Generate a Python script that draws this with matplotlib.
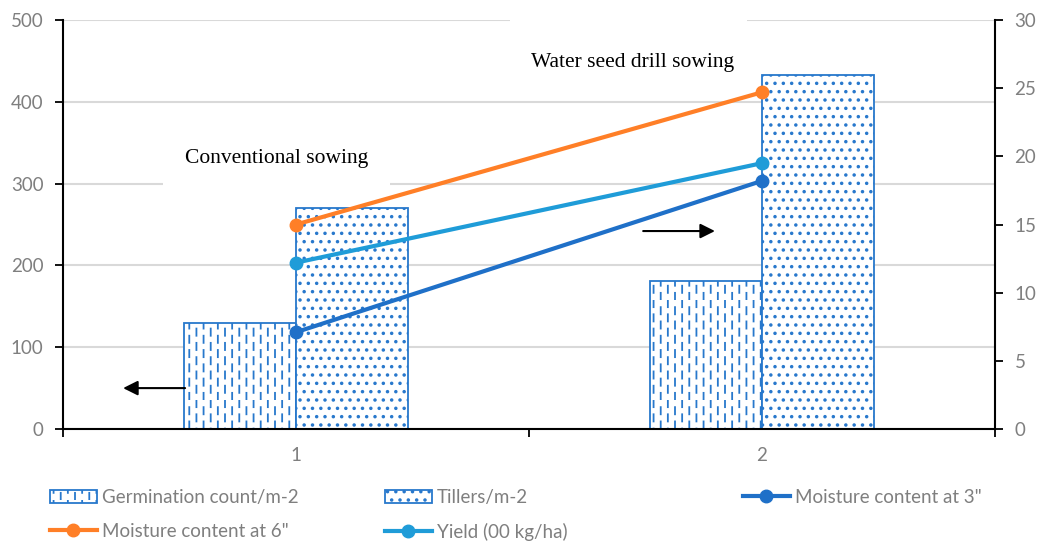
import numpy as np
import matplotlib
matplotlib.use("Agg")
import matplotlib.pyplot as plt
import matplotlib.hatch as mhatch
from matplotlib.path import Path
from matplotlib.patches import Rectangle

# ---------------- data ----------------
categories = [1, 2]
germination = [130, 181]
tillers = [270, 433]
moisture_3 = [7.1, 18.2]
moisture_6 = [15.0, 24.7]
yield_00 = [12.2, 19.5]
left_ticks = [0, 100, 200, 300, 400, 500]
right_ticks = [0, 5, 10, 15, 20, 25, 30]


# ------------- custom dashed-vertical hatch -------------
class DashedVertical(mhatch.HatchPatternBase):
    def __init__(self, hatch, density):
        c = hatch.count('|')
        self.ncols = 14 * c
        self.nrows = 7 * c
        self.num_vertices = self.ncols * self.nrows * 2

    def set_vertices_and_codes(self, vertices, codes):
        k = 0
        for i in range(self.ncols):
            x = (i + 0.5) / self.ncols
            off = 0.5 / self.nrows if i % 2 else 0.0
            for j in range(self.nrows):
                y0 = j / self.nrows + off
                vertices[k] = (x, y0)
                vertices[k + 1] = (x, y0 + 0.5 / self.nrows)
                codes[k] = Path.MOVETO
                codes[k + 1] = Path.LINETO
                k += 2


mhatch._hatch_types[mhatch._hatch_types.index(mhatch.VerticalHatch)] = DashedVertical

plt.rcParams['font.family'] = ['Lato', 'DejaVu Sans']
plt.rcParams['hatch.linewidth'] = 1.3

BAR_BLUE = '#2878CC'
DARK_BLUE = '#1F70C8'
LIGHT_BLUE = '#1F9CD8'
ORANGE = '#FF7F27'
GRID = '#D9D9D9'
TXT = '#7F7F7F'

fig = plt.figure(figsize=(10.41, 5.45), dpi=100)
ax = fig.add_axes([63 / 1041, 116 / 545, 932 / 1041, 409 / 545])
ax2 = ax.twinx()

x = np.array(categories, dtype=float)
w = 0.24
b1 = ax.bar(x - w, germination, width=w, align='edge', facecolor='white',
            edgecolor=BAR_BLUE, hatch='|', linewidth=1.3, label='Germination count/m-2')
b2 = ax.bar(x, tillers, width=w, align='edge', facecolor='white',
            edgecolor=BAR_BLUE, hatch='..', linewidth=1.3, label='Tillers/m-2')

l3, = ax2.plot(x, moisture_3, color=DARK_BLUE, lw=3, marker='o', ms=9,
               label='Moisture content at 3"')
l6, = ax2.plot(x, moisture_6, color=ORANGE, lw=3, marker='o', ms=9,
               label='Moisture content at 6"')
ly, = ax2.plot(x, yield_00, color=LIGHT_BLUE, lw=3, marker='o', ms=9,
               label='Yield (00 kg/ha)')

ax.set_xlim(0.5, 2.5)
ax.set_ylim(0, 500)
ax2.set_ylim(0, 30)
ax.set_yticks(left_ticks)
ax2.set_yticks(right_ticks)
ax.set_xticks(categories)
ax.set_xticklabels([str(c) for c in categories])
ax.set_xticks([0.5, 1.5, 2.5], minor=True)
ax.tick_params(axis='x', which='major', length=0, pad=13, labelsize=13.5, labelcolor=TXT)
ax.tick_params(axis='x', which='minor', length=6, width=1.3, color='black', direction='out')
ax.tick_params(axis='y', length=6, width=1.3, color='black', labelsize=13.5, labelcolor=TXT, pad=8)
ax2.tick_params(axis='y', length=6, width=1.3, color='black', labelsize=13.5, labelcolor=TXT, pad=8)

ax.yaxis.grid(True, color=GRID, lw=1.5)
ax.set_axisbelow(True)
ax.spines['top'].set_visible(False)
ax2.spines['top'].set_visible(False)
ax2.patch.set_visible(False)
ax.spines['right'].set_visible(False)
ax2.spines['left'].set_visible(False)
ax2.spines['bottom'].set_visible(False)
ax.spines['left'].set_linewidth(1.5)
ax.spines['bottom'].set_linewidth(1.5)
ax2.spines['right'].set_linewidth(1.5)

# annotation boxes
ax.add_patch(Rectangle((0.715, 296), 0.487, 78, facecolor='white', edgecolor='none', zorder=1.5))
ax.add_patch(Rectangle((1.459, 420), 0.509, 90, facecolor='white', edgecolor='none',
                       zorder=1.5, clip_on=False))
ax.text(0.762, 331, 'Conventional sowing', family='Liberation Serif', fontsize=15.5,
        ha='left', va='center', color='black', zorder=3)
ax.text(1.504, 448, 'Water seed drill sowing', family='Liberation Serif', fontsize=15.5,
        ha='left', va='center', color='black', zorder=3)

# arrows
ax.annotate('', xy=(0.629, 50), xytext=(0.762, 50),
            arrowprops=dict(arrowstyle='-|>', color='black', lw=1.5, mutation_scale=22,
                            shrinkA=0, shrinkB=0), zorder=3)
ax.annotate('', xy=(1.899, 242), xytext=(1.745, 242),
            arrowprops=dict(arrowstyle='-|>', color='black', lw=1.5, mutation_scale=22,
                            shrinkA=0, shrinkB=0), zorder=3)

# legends
leg_kw = dict(loc='upper left', frameon=False, fontsize=13.5, handlelength=2.5,
              handleheight=0.7, handletextpad=0.25, labelspacing=0.9,
              borderpad=0, borderaxespad=0, labelcolor=TXT)
top = 1 - 489 / 545
fig.legend(handles=[b1, l6], bbox_to_anchor=(50 / 1041, top), **leg_kw)
fig.legend(handles=[b2, ly], bbox_to_anchor=(385 / 1041, top), **leg_kw)
fig.legend(handles=[l3], bbox_to_anchor=(743 / 1041, top), **leg_kw)

fig.savefig('out.png', dpi=100)
